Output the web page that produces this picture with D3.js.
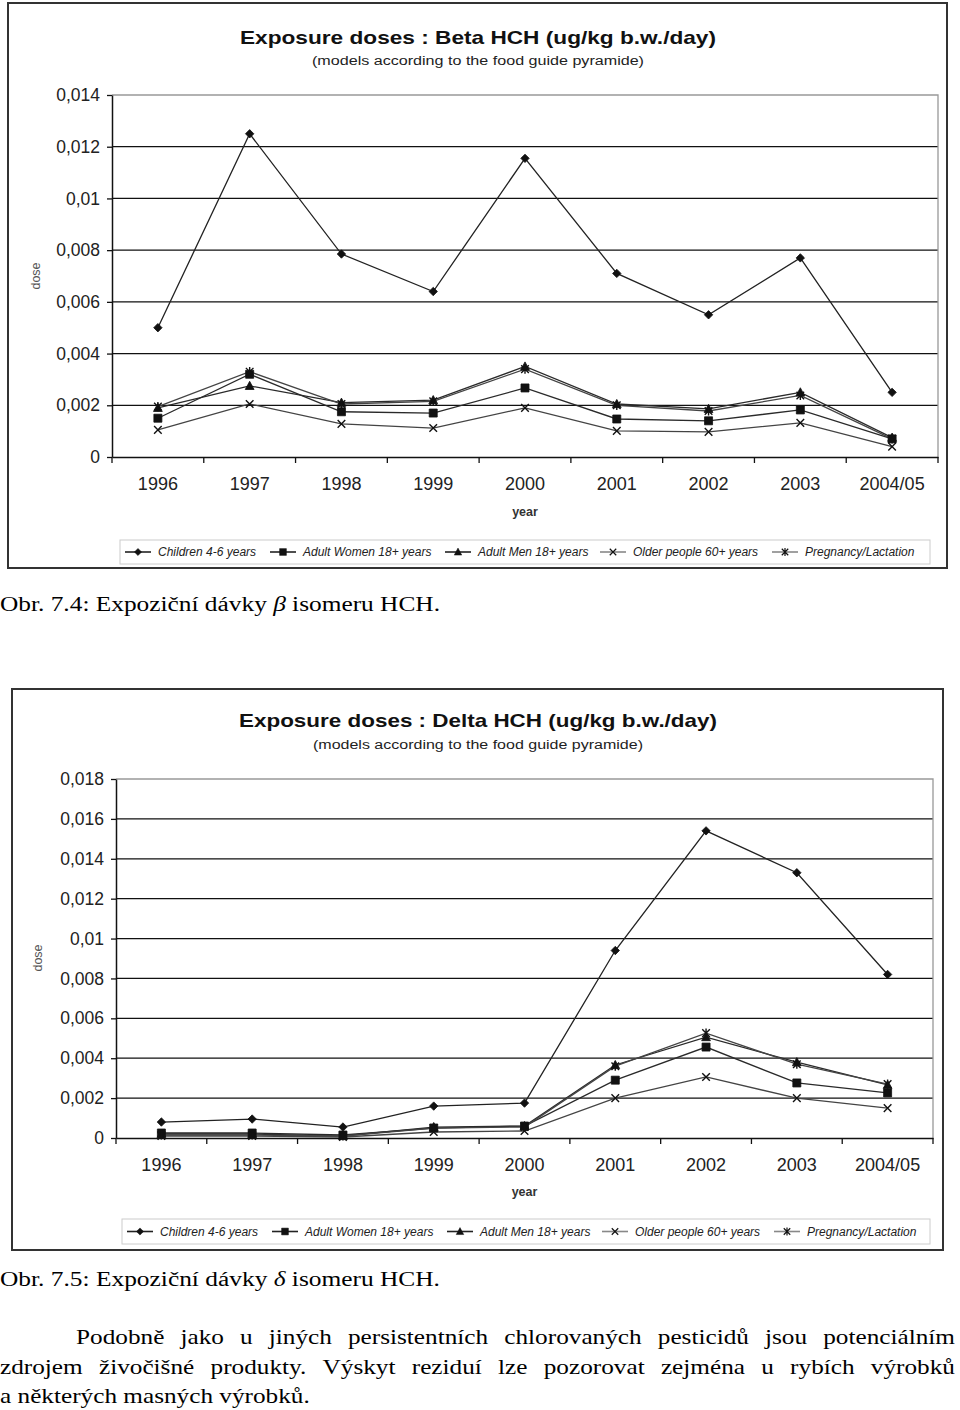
<!DOCTYPE html>
<html><head><meta charset="utf-8">
<script src="https://cdn.jsdelivr.net/npm/d3@7"></script>
<style>body{margin:0;background:#fff} svg{display:block}</style>
</head><body>
<svg id="c" width="960" height="1410"></svg>
<script>
// ---------- DATA ----------
const years = ["1996","1997","1998","1999","2000","2001","2002","2003","2004/05"];
const seriesNames = ["Children 4-6 years","Adult Women 18+ years","Adult Men 18+ years","Older people 60+ years","Pregnancy/Lactation"];

const betaChildren  = [0.0050,0.0125,0.00785,0.0064,0.01155,0.0071,0.0055,0.0077,0.0025];
const betaWomen     = [0.0015,0.0032,0.00175,0.0017,0.00267,0.00147,0.0014,0.00182,0.0007];
const betaMen       = [0.0019,0.00275,0.0021,0.0022,0.0035,0.00205,0.00186,0.0025,0.00075];
const betaOlder     = [0.00105,0.00205,0.00128,0.00112,0.0019,0.00101,0.00097,0.00132,0.0004];
const betaPregnancy = [0.00195,0.0033,0.00205,0.00215,0.0034,0.002,0.00178,0.00238,0.0007];
const betaTicks      = [0,0.002,0.004,0.006,0.008,0.01,0.012,0.014];
const betaTickLabels = ["0","0,002","0,004","0,006","0,008","0,01","0,012","0,014"];

const deltaChildren  = [0.0008,0.00095,0.00055,0.0016,0.00175,0.0094,0.0154,0.0133,0.0082];
const deltaWomen     = [0.00025,0.00025,0.00015,0.0005,0.0006,0.0029,0.00456,0.00276,0.00226];
const deltaMen       = [0.0002,0.0002,0.0001,0.00055,0.0006,0.00366,0.00506,0.0038,0.00266];
const deltaOlder     = [0.0001,0.0001,0.00005,0.0003,0.00035,0.002,0.00306,0.002,0.0015];
const deltaPregnancy = [0.00015,0.00015,0.0001,0.0005,0.00055,0.0036,0.00526,0.0037,0.0027];
const deltaTicks      = [0,0.002,0.004,0.006,0.008,0.01,0.012,0.014,0.016,0.018];
const deltaTickLabels = ["0","0,002","0,004","0,006","0,008","0,01","0,012","0,014","0,016","0,018"];

const betaTitle = "Exposure doses : Beta HCH (ug/kg b.w./day)";
const deltaTitle = "Exposure doses : Delta HCH (ug/kg b.w./day)";
const subTitle = "(models according to the food guide pyramide)";

// ---------- DRAWING ----------
const svg = d3.select("#c");
const SANS = "'Liberation Sans', Arial, sans-serif";
const SERIF = "'Liberation Serif', 'Times New Roman', serif";

const markerPaths = [
  "M0,-4.2L4.2,0L0,4.2L-4.2,0Z",
  "M-4,-4H4V4H-4Z",
  "M0,-4.6L4.4,3.6H-4.4Z",
  "M-3.8,-3.8L3.8,3.8M-3.8,3.8L3.8,-3.8",
  "M-3.8,-3.8L3.8,3.8M-3.8,3.8L3.8,-3.8M0,-4.6V4.6"
];
const markerFilled = [true,true,true,false,false];
const lineColors = ["#222","#2a2a2a","#2a2a2a","#444","#444"];
const legendLineColors = ["#222","#222","#222","#888","#888"];

function fitWidth(textSel, w){
  textSel.attr("textLength", w).attr("lengthAdjust","spacingAndGlyphs");
}

function drawChart(cfg){
  const g = svg.append("g");
  g.append("rect").attr("x",cfg.frame[0]).attr("y",cfg.frame[1])
    .attr("width",cfg.frame[2]-cfg.frame[0]).attr("height",cfg.frame[3]-cfg.frame[1])
    .attr("fill","#fff").attr("stroke","#333").attr("stroke-width",2);

  const x = d3.scaleBand().domain(years).range([cfg.l, cfg.r]).padding(0);
  const y = d3.scaleLinear().domain([0, cfg.ymax]).range([cfg.b, cfg.t]);
  const cx = d => x(d) + x.bandwidth()/2;

  const t = g.append("text").attr("x",cfg.titleX).attr("y",cfg.titleY).attr("text-anchor","middle")
    .attr("font-family",SANS).attr("font-weight","bold").attr("font-size",19).attr("fill","#111")
    .text(cfg.title);
  fitWidth(t, cfg.titleW);
  const st = g.append("text").attr("x",cfg.titleX).attr("y",cfg.subY).attr("text-anchor","middle")
    .attr("font-family",SANS).attr("font-size",12.5).attr("fill","#222").text(subTitle);
  fitWidth(st, cfg.subW);

  g.append("g").selectAll("line").data(cfg.ticks.filter(v=>v>0 && v<cfg.ymax)).join("line")
    .attr("x1",cfg.l).attr("x2",cfg.r).attr("y1",d=>y(d)).attr("y2",d=>y(d))
    .attr("stroke","#111").attr("stroke-width",1.3);
  g.append("path").attr("d",`M${cfg.l},${y(cfg.ymax)}H${cfg.r}V${cfg.b}`)
    .attr("fill","none").attr("stroke","#999").attr("stroke-width",1.3);

  const ya = g.append("g").attr("transform",`translate(${cfg.l},0)`)
    .call(d3.axisLeft(y).tickValues(cfg.ticks).tickFormat((d,i)=>cfg.tickLabels[i]).tickSize(5).tickPadding(7).tickSizeOuter(0));
  ya.select(".domain").attr("stroke","#111").attr("stroke-width",1.5);
  ya.selectAll(".tick line").attr("stroke","#111").attr("stroke-width",1.3);
  ya.selectAll(".tick text").attr("font-family",SANS).attr("font-size",17.5).attr("fill","#222");

  const xa = g.append("g").attr("transform",`translate(0,${cfg.b})`)
    .call(d3.axisBottom(x).tickSize(0).tickPadding(20).tickSizeOuter(0));
  xa.select(".domain").attr("stroke","#111").attr("stroke-width",1.5);
  xa.selectAll(".tick text").attr("font-family",SANS).attr("font-size",18).attr("fill","#222");
  const edges = years.map(d=>x(d)).concat([cfg.r]);
  g.append("g").selectAll("line").data(edges).join("line")
    .attr("x1",d=>d).attr("x2",d=>d).attr("y1",cfg.b).attr("y2",cfg.b+6)
    .attr("stroke","#111").attr("stroke-width",1.3);

  g.append("text").attr("x",cx(years[4])).attr("y",cfg.yearY).attr("text-anchor","middle")
    .attr("font-family",SANS).attr("font-weight","bold").attr("font-size",12.5).attr("fill","#333").text("year");
  g.append("text").attr("transform",`translate(${cfg.doseX},${cfg.doseY}) rotate(-90)`).attr("text-anchor","middle")
    .attr("font-family",SANS).attr("font-size",12.5).attr("fill","#555").text("dose");

  const line = d3.line().x((d,i)=>cx(years[i])).y(d=>y(d));
  cfg.series.forEach((s,k)=>{
    g.append("path").datum(s).attr("d",line).attr("fill","none")
      .attr("stroke",lineColors[k]).attr("stroke-width",1.3);
  });
  cfg.series.forEach((s,k)=>{
    g.append("g").selectAll("path").data(s).join("path")
      .attr("transform",(d,i)=>`translate(${cx(years[i])},${y(d)})`)
      .attr("d",markerPaths[k])
      .attr("fill",markerFilled[k]?"#111":"none")
      .attr("stroke","#111").attr("stroke-width",markerFilled[k]?0.8:1.4);
  });

  const lb = cfg.legend;
  g.append("rect").attr("x",lb[0]).attr("y",lb[1]).attr("width",lb[2]-lb[0]).attr("height",lb[3]-lb[1])
    .attr("fill","#fff").attr("stroke","#ccc").attr("stroke-width",1);
  const ly = (lb[1]+lb[3])/2;
  const lxs = cfg.legendX;
  seriesNames.forEach((name,k)=>{
    const x0 = lxs[k];
    g.append("line").attr("x1",x0).attr("x2",x0+26).attr("y1",ly).attr("y2",ly)
      .attr("stroke",legendLineColors[k]).attr("stroke-width",1.6);
    g.append("path").attr("transform",`translate(${x0+13},${ly}) scale(0.85)`).attr("d",markerPaths[k])
      .attr("fill",markerFilled[k]?"#111":"none").attr("stroke","#111").attr("stroke-width",markerFilled[k]?0.6:1.4);
    g.append("text").attr("x",x0+33).attr("y",ly+4.3).attr("font-family",SANS).attr("font-style","italic")
      .attr("font-size",12).attr("fill","#222").text(name);
  });
}

drawChart({
  frame:[8,3,947,568], l:112, r:938, t:95, b:457, ymax:0.014,
  ticks:betaTicks, tickLabels:betaTickLabels,
  title:betaTitle, titleX:478, titleY:44, titleW:476, subY:65, subW:332,
  yearY:516, doseX:40, doseY:276,
  series:[betaChildren,betaWomen,betaMen,betaOlder,betaPregnancy],
  legend:[120,540,930,564], legendX:[125,270,445,600,772]
});
drawChart({
  frame:[12,689,943,1250], l:116, r:933, t:779, b:1138, ymax:0.018,
  ticks:deltaTicks, tickLabels:deltaTickLabels,
  title:deltaTitle, titleX:478, titleY:727, titleW:478, subY:749, subW:330,
  yearY:1196, doseX:42, doseY:958,
  series:[deltaChildren,deltaWomen,deltaMen,deltaOlder,deltaPregnancy],
  legend:[122,1219,930,1244], legendX:[127,272,447,602,774]
});

function caption(yb, sym){
  const t = svg.append("text").attr("x",0).attr("y",yb).attr("font-family",SERIF).attr("font-size",20).attr("fill","#000");
  t.append("tspan").text("Obr. 7." + (sym==="β"?"4":"5") + ": Expoziční dávky ");
  t.append("tspan").attr("font-style","italic").text(sym);
  t.append("tspan").text(" isomeru HCH.");
  return t;
}
fitWidth(caption(611,"β"), 440);
fitWidth(caption(1286,"δ"), 440);

const paraLines = [
  {words:"Podobně jako u jiných persistentních chlorovaných pesticidů jsou potenciálním".split(" "), x0:76, x1:955, y:1344, justify:true},
  {words:"zdrojem živočišné produkty. Výskyt reziduí lze pozorovat zejména u rybích výrobků".split(" "), x0:0, x1:955, y:1374, justify:true},
  {words:"a některých masných výrobků.".split(" "), x0:0, x1:310, y:1403, justify:false}
];
const probe = svg.append("text").attr("font-family",SERIF).attr("font-size",20).text(paraLines[2].words.join(" "));
const sx = 310 / probe.node().getComputedTextLength();
probe.remove();
paraLines.forEach(L=>{
  const g = svg.append("g").attr("transform",`translate(${L.x0},${L.y}) scale(${sx},1)`);
  if(!L.justify){
    g.append("text").attr("font-family",SERIF).attr("font-size",20).attr("fill","#000").text(L.words.join(" "));
    return;
  }
  const ws = L.words.map(w=>{
    const t = g.append("text").attr("font-family",SERIF).attr("font-size",20).attr("fill","#000").text(w);
    return {t, w:t.node().getComputedTextLength()};
  });
  const total = (L.x1 - L.x0)/sx;
  const sumW = d3.sum(ws, d=>d.w);
  const gap = (total - sumW)/(ws.length-1);
  let cxp = 0;
  ws.forEach(d=>{ d.t.attr("x",cxp); cxp += d.w + gap; });
});
</script>
</body></html>
